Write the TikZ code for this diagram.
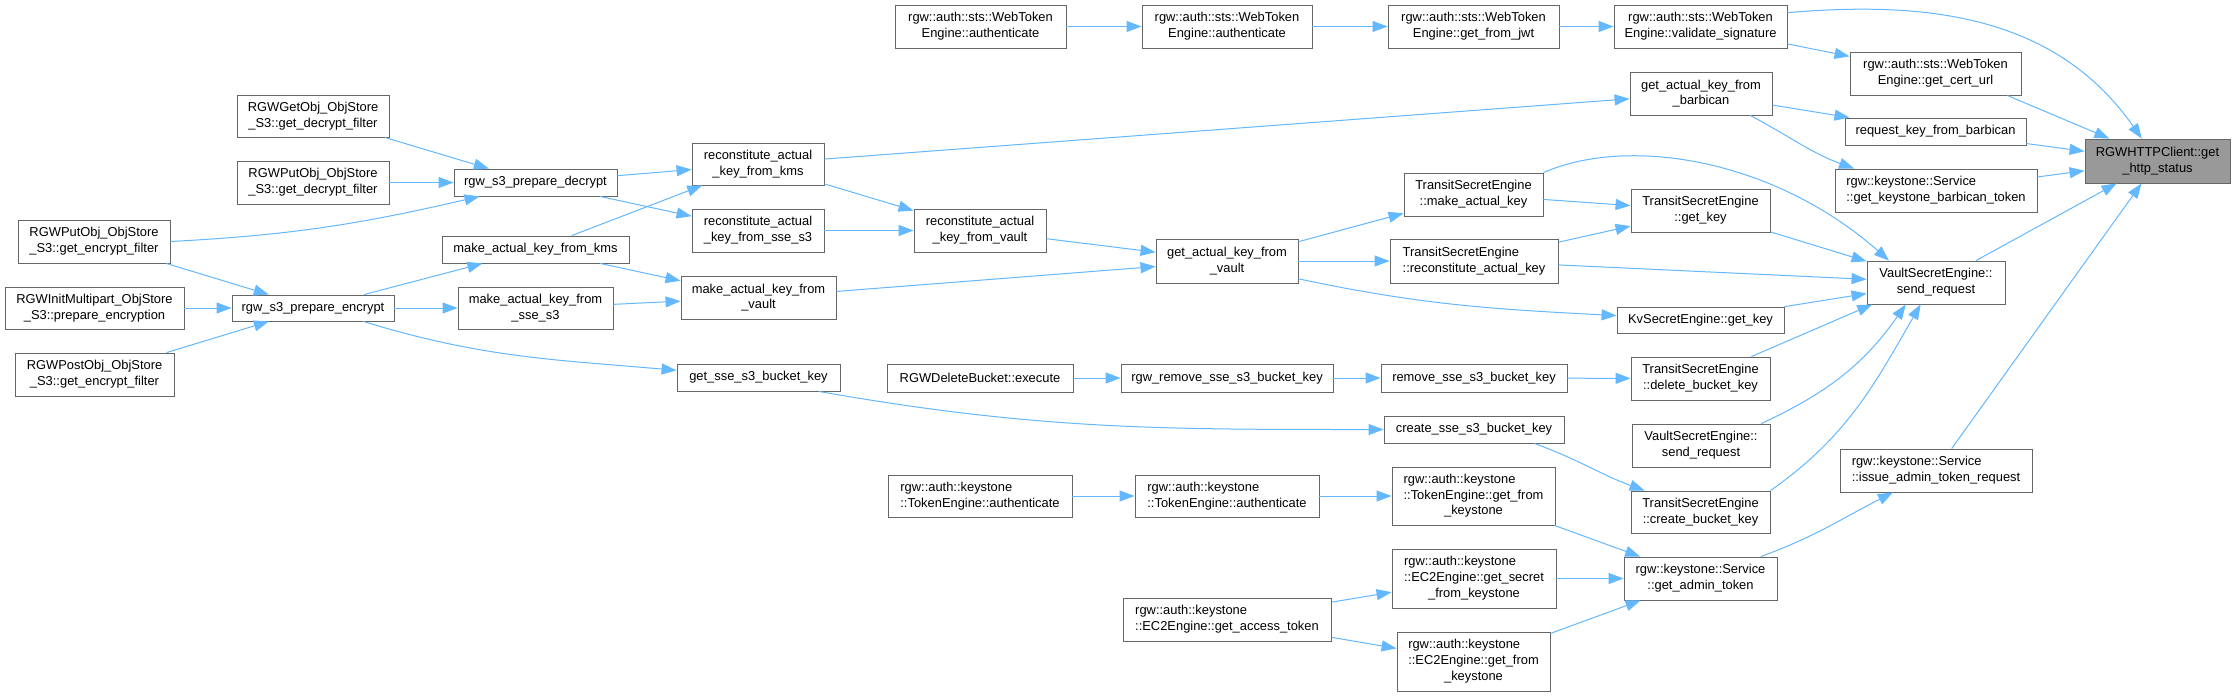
\documentclass[tikz,border=0pt]{standalone}
\usepackage{fontspec}
\setmainfont{Liberation Sans}
\usetikzlibrary{arrows.meta}
\definecolor{edgeblue}{HTML}{63B8FF}
\definecolor{boxline}{HTML}{666666}
\definecolor{mainfill}{HTML}{999999}
\begin{document}
\begin{tikzpicture}[>={Triangle[length=15pt,width=11pt]},x=1pt,y=-1pt,
		fn/.style={draw=boxline,line width=0.9pt,fill=white,inner sep=0pt,align=center,font={\fontsize{12.9}{15.7}\selectfont}},
		fnl/.style={fn,align=left},
		fnmain/.style={fn,fill=mainfill},
		call/.style={->,draw=edgeblue,line width=1pt}]
				\def\fnbox#1#2#3#4#5#6#7{\node[#1,minimum width={#5-#3},minimum height={#6-#4}] (#2) at ({(#3+#5)/2},{(#4+#6)/2}) {#7};}
				\path[use as bounding box,fill=white] (0,0) rectangle (2235,696);
				% callers on the left
				\fnbox{fn}{getdec}{237}{95}{389}{137}{RGWGetObj\_ObjStore\\\_S3::get\_decrypt\_filter}
				\fnbox{fn}{putdec}{237}{161}{389}{204}{RGWPutObj\_ObjStore\\\_S3::get\_decrypt\_filter}
				\fnbox{fn}{putenc}{18}{220}{170}{263}{RGWPutObj\_ObjStore\\\_S3::get\_encrypt\_filter}
				\fnbox{fn}{initmp}{5}{287}{184}{329}{RGWInitMultipart\_ObjStore\\\_S3::prepare\_encryption}
				\fnbox{fn}{postenc}{15}{353}{174}{396}{RGWPostObj\_ObjStore\\\_S3::get\_encrypt\_filter}
				\fnbox{fn}{prepenc}{232}{295}{394}{321}{rgw\_s3\_prepare\_encrypt}
				\fnbox{fn}{prepdec}{454}{169}{617}{196}{rgw\_s3\_prepare\_decrypt}
				\fnbox{fn}{recokms}{692}{143}{824}{185}{reconstitute\_actual\\\_key\_from\_kms}
				\fnbox{fn}{recosse}{692}{209}{824}{252}{reconstitute\_actual\\\_key\_from\_sse\_s3}
				\fnbox{fn}{makekms}{442}{236}{629}{263}{make\_actual\_key\_from\_kms}
				\fnbox{fn}{makesse}{458}{287}{613}{329}{make\_actual\_key\_from\\\_sse\_s3}
				\fnbox{fn}{makevault}{681}{276}{836}{319}{make\_actual\_key\_from\\\_vault}
				\fnbox{fn}{getsse}{677}{364}{840}{391}{get\_sse\_s3\_bucket\_key}
				% middle
				\fnbox{fn}{stsauthA}{895}{5}{1066}{48}{rgw::auth::sts::WebToken\\Engine::authenticate}
				\fnbox{fn}{stsauthB}{1142}{5}{1312}{48}{rgw::auth::sts::WebToken\\Engine::authenticate}
				\fnbox{fn}{fromjwt}{1388}{5}{1559}{48}{rgw::auth::sts::WebToken\\Engine::get\_from\_jwt}
				\fnbox{fn}{validsig}{1614}{5}{1787}{48}{rgw::auth::sts::WebToken\\Engine::validate\_signature}
				\fnbox{fn}{certurl}{1850}{52}{2021}{95}{rgw::auth::sts::WebToken\\Engine::get\_cert\_url}
				\fnbox{fn}{recovault}{914}{209}{1046}{252}{reconstitute\_actual\\\_key\_from\_vault}
				\fnbox{fn}{getvault}{1156}{239}{1298}{283}{get\_actual\_key\_from\\\_vault}
				\fnbox{fn}{delexec}{887}{364}{1073}{392}{RGWDeleteBucket::execute}
				\fnbox{fn}{rmbucket}{1121}{364}{1333}{392}{rgw\_remove\_sse\_s3\_bucket\_key}
				\fnbox{fn}{removesse}{1381}{364}{1567}{392}{remove\_sse\_s3\_bucket\_key}
				\fnbox{fn}{createsse}{1384}{416}{1564}{443}{create\_sse\_s3\_bucket\_key}
				\fnbox{fnl}{tokauthA}{888}{475}{1072}{517}{rgw::auth::keystone\\::TokenEngine::authenticate}
				\fnbox{fnl}{tokauthB}{1135}{475}{1319}{517}{rgw::auth::keystone\\::TokenEngine::authenticate}
				\fnbox{fn}{tokfromks}{1392}{467}{1555}{525}{\begin{tabular}{@{}l@{}}rgw::auth::keystone\\::TokenEngine::get\_from\\\multicolumn{1}{@{}c@{}}{\_keystone}\end{tabular}}
				\fnbox{fnl}{ec2access}{1123}{598}{1331}{641}{rgw::auth::keystone\\::EC2Engine::get\_access\_token}
				\fnbox{fn}{ec2secret}{1392}{549}{1556}{608}{\begin{tabular}{@{}l@{}}rgw::auth::keystone\\::EC2Engine::get\_secret\\\multicolumn{1}{@{}c@{}}{\_from\_keystone}\end{tabular}}
				\fnbox{fn}{ec2fromks}{1397}{632}{1550}{691}{\begin{tabular}{@{}l@{}}rgw::auth::keystone\\::EC2Engine::get\_from\\\multicolumn{1}{@{}c@{}}{\_keystone}\end{tabular}}
				% right
				\fnbox{fn}{transmake}{1404}{173}{1543}{216}{TransitSecretEngine\\::make\_actual\_key}
				\fnbox{fnl}{transreco}{1390}{239}{1558}{283}{TransitSecretEngine\\::reconstitute\_actual\_key}
				\fnbox{fn}{barbican}{1630}{72}{1772}{115}{get\_actual\_key\_from\\\_barbican}
				\fnbox{fn}{reqbarb}{1845}{118}{2026}{145}{request\_key\_from\_barbican}
				\fnbox{fnl}{ksbarb}{1835}{169}{2037}{212}{rgw::keystone::Service\\::get\_keystone\_barbican\_token}
				\fnbox{fn}{transget}{1631}{189}{1770}{232}{TransitSecretEngine\\::get\_key}
				\fnbox{fn}{vaultsend}{1867}{261}{2005}{304}{VaultSecretEngine::\\send\_request}
				\fnbox{fn}{kvget}{1617}{307}{1784}{333}{KvSecretEngine::get\_key}
				\fnbox{fn}{transdel}{1631}{357}{1770}{400}{TransitSecretEngine\\::delete\_bucket\_key}
				\fnbox{fn}{vaultleaf}{1632}{424}{1770}{467}{VaultSecretEngine::\\send\_request}
				\fnbox{fn}{transcreate}{1631}{491}{1770}{533}{TransitSecretEngine\\::create\_bucket\_key}
				\fnbox{fn}{admintok}{1624}{557}{1777}{600}{rgw::keystone::Service\\::get\_admin\_token}
				\fnbox{fnl}{issueadmin}{1840}{449}{2032}{492}{rgw::keystone::Service\\::issue\_admin\_token\_request}
				\fnbox{fnmain}{httpstatus}{2085}{139}{2230}{183}{RGWHTTPClient::get\\\_http\_status}
				% calls
				\draw[call] (getdec) -- (prepdec);
				\draw[call] (putdec) -- (prepdec);
				\draw[call] (putenc.east) to[out=3,in=193] (prepdec.194);
				\draw[call] (putenc) -- (prepenc);
				\draw[call] (initmp) -- (prepenc);
				\draw[call] (postenc) -- (prepenc);
				\draw[call] (prepenc) -- (makekms);
				\draw[call] (prepenc) -- (makesse);
				\draw[call] (prepenc.-15) to[out=-17,in=175] (getsse.175);
				\draw[call] (prepdec) -- (recokms);
				\draw[call] (prepdec) -- (recosse);
				\draw[call] (makekms) -- (recokms);
				\draw[call] (makekms) -- (makevault);
				\draw[call] (makesse) -- (makevault);
				\draw[call] (recokms) -- (barbican);
				\draw[call] (recokms) -- (recovault);
				\draw[call] (recosse) -- (recovault);
				\draw[call] (recovault) -- (getvault);
				\draw[call] (makevault) -- (getvault);
				\draw[call] (getvault) -- (transmake);
				\draw[call] (getvault) -- (transreco);
				\draw[call] (getvault.-14) to[out=-12,in=177] (kvget.177);
				\draw[call] (transmake) -- (transget);
				\draw[call] (transmake.north east) .. controls (1630,135) and (1775,160) .. (vaultsend.155);
				\draw[call] (transreco) -- (transget);
				\draw[call] (transreco) -- (vaultsend);
				\draw[call] (transget) -- (vaultsend);
				\draw[call] (kvget) -- (vaultsend);
				\draw[call] (transdel) -- (vaultsend.199);
				\draw[call] (vaultleaf.20) to[out=25,in=235] (vaultsend.216);
				\draw[call] (transcreate.north east) to[out=35,in=240] (vaultsend.235);
				\draw[call] (vaultsend) -- (httpstatus);
				\draw[call] (validsig.9) to[out=5,in=125] (httpstatus.125);
				\draw[call] (validsig) -- (certurl);
				\draw[call] (certurl.-17) -- (httpstatus.155);
				\draw[call] (reqbarb) -- (httpstatus);
				\draw[call] (ksbarb) -- (httpstatus);
				\draw[call] (issueadmin) -- (httpstatus);
				\draw[call] (barbican) -- (reqbarb);
				\draw[call] (barbican.-24) to[out=-28,in=160] (ksbarb.165);
				\draw[call] (stsauthA) -- (stsauthB);
				\draw[call] (stsauthB) -- (fromjwt);
				\draw[call] (fromjwt) -- (validsig);
				\draw[call] (getsse.-13) to[out=-10,in=180] (createsse.west);
				\draw[call] (createsse.-13) to[out=-20,in=160] (transcreate.159);
				\draw[call] (delexec) -- (rmbucket);
				\draw[call] (rmbucket) -- (removesse);
				\draw[call] (removesse) -- (transdel);
				\draw[call] (tokauthA) -- (tokauthB);
				\draw[call] (tokauthB) -- (tokfromks);
				\draw[call] (tokfromks) -- (admintok);
				\draw[call] (ec2access) -- (ec2secret);
				\draw[call] (ec2access) -- (ec2fromks);
				\draw[call] (ec2secret) -- (admintok);
				\draw[call] (ec2fromks) -- (admintok);
				\draw[call] (admintok.20) to[out=20,in=207] (issueadmin.207);
			\end{tikzpicture}
\end{document}
